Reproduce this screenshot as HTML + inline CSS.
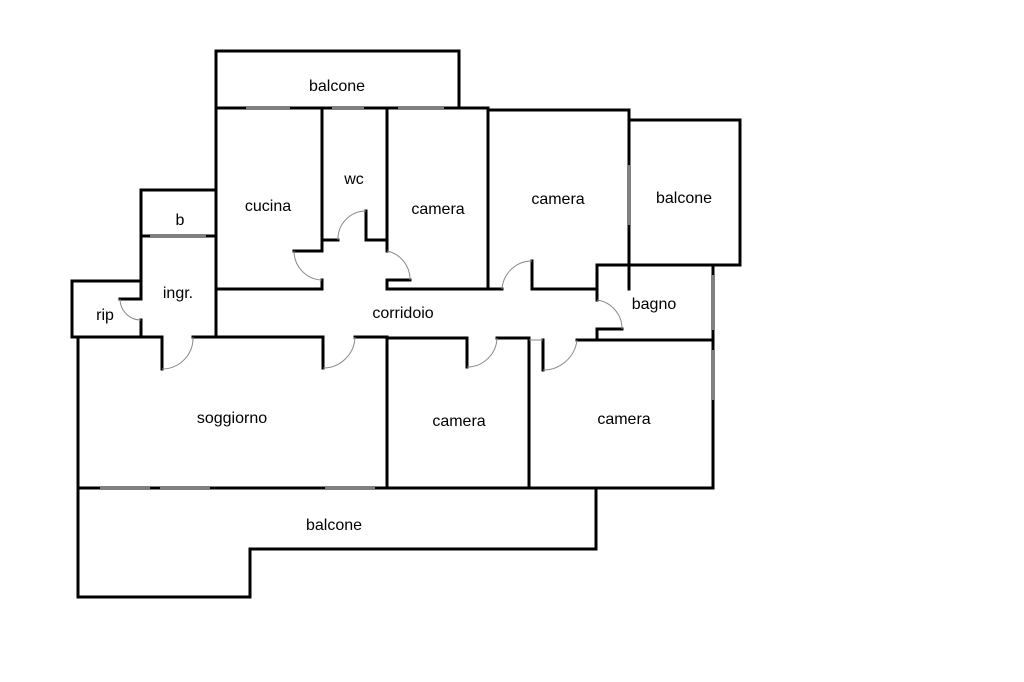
<!DOCTYPE html>
<html><head><meta charset="utf-8"><style>
html,body{margin:0;padding:0;background:#fff;width:1024px;height:682px;overflow:hidden}
svg text{font-family:"Liberation Sans",Arial,sans-serif;font-size:16px;fill:#000;text-anchor:middle}
</style></head><body>
<svg width="1024" height="682" viewBox="0 0 1024 682" xmlns="http://www.w3.org/2000/svg">
<g stroke="#000" stroke-width="3" fill="none" stroke-linecap="square">
<!-- top balcone -->
<rect x="216" y="51" width="243" height="57"/>
<line x1="216" y1="108" x2="488" y2="108"/>
<polyline points="488,289 488,110 629,110 629,289"/>
<rect x="629" y="120" width="111" height="145"/>
<!-- cucina -->
<line x1="216" y1="108" x2="216" y2="337"/>
<line x1="216" y1="289" x2="322" y2="289"/>
<polyline points="322,108 322,251 294,251"/>
<line x1="322" y1="280" x2="322" y2="289"/>
<!-- wc -->
<line x1="322" y1="240" x2="338" y2="240"/>
<polyline points="366,211 366,240 387,240"/>
<line x1="387" y1="108" x2="387" y2="251"/>
<polyline points="410,280 387,280 387,289 488,289"/>
<!-- camera2 door -->
<line x1="488" y1="289" x2="502" y2="289"/>
<polyline points="532,261 532,289 597,289"/>
<!-- bagno -->
<polyline points="597,300 597,265 713,265 713,340"/>
<polyline points="622,329 597,329 597,340"/>
<!-- b / ingr / rip -->
<polyline points="141,298 141,190 216,190"/>
<line x1="141" y1="236" x2="216" y2="236"/>
<polyline points="120,299 141,299"/>
<line x1="141" y1="320" x2="141" y2="337"/>
<polyline points="141,281 72,281 72,337 141,337"/>
<!-- soggiorno top -->
<line x1="78" y1="337" x2="162" y2="337"/>
<line x1="162" y1="337" x2="162" y2="369"/>
<line x1="193" y1="337" x2="323" y2="337"/>
<line x1="323" y1="337" x2="323" y2="368"/>
<line x1="355" y1="337" x2="387" y2="337"/>
<line x1="78" y1="337" x2="78" y2="597"/>
<line x1="387" y1="337" x2="387" y2="488"/>
<!-- camera mid top -->
<line x1="387" y1="338" x2="467" y2="338"/>
<line x1="467" y1="338" x2="467" y2="367"/>
<line x1="497" y1="338" x2="529" y2="338"/>
<line x1="529" y1="338" x2="529" y2="488"/>
<!-- camera right -->
<line x1="543" y1="340" x2="543" y2="370"/>
<line x1="577" y1="340" x2="713" y2="340"/>
<line x1="713" y1="340" x2="713" y2="488"/>
<!-- bottom -->
<line x1="78" y1="488" x2="713" y2="488"/>
<polyline points="78,597 250,597 250,549 596,549 596,488"/>
</g>
<g stroke="#888" stroke-width="1" fill="none">
<path d="M294,251 A29,29 0 0 0 322,280"/>
<path d="M338,240 A28,28 0 0 1 366,211"/>
<path d="M387,251 A29,29 0 0 1 410,280"/>
<path d="M502,289 A30,30 0 0 1 532,261"/>
<path d="M597,300 A29,29 0 0 1 622,329"/>
<path d="M120,299 A21,21 0 0 0 141,320"/>
<path d="M162,369 A31,31 0 0 0 193,337"/>
<path d="M323,368 A32,32 0 0 0 355,337"/>
<path d="M467,367 A30,30 0 0 0 497,338"/>
<path d="M543,370 A34,34 0 0 0 577,340"/>
<line x1="529" y1="340" x2="543" y2="340"/>
</g>
<g stroke="#fff" stroke-width="1">
<line x1="246" y1="108" x2="290" y2="108"/>
<line x1="332" y1="108" x2="364" y2="108"/>
<line x1="398" y1="108" x2="444" y2="108"/>
<line x1="150" y1="236" x2="206" y2="236"/>
<line x1="100" y1="488" x2="150" y2="488"/>
<line x1="160" y1="488" x2="210" y2="488"/>
<line x1="325" y1="488" x2="375" y2="488"/>
<line x1="713" y1="275" x2="713" y2="330"/>
<line x1="713" y1="350" x2="713" y2="400"/>
<line x1="629" y1="165" x2="629" y2="225"/>
</g>
<text x="337" y="91">balcone</text>
<text x="268" y="211">cucina</text>
<text x="354" y="184">wc</text>
<text x="438" y="214">camera</text>
<text x="558" y="204">camera</text>
<text x="684" y="203">balcone</text>
<text x="180" y="225">b</text>
<text x="178" y="298">ingr.</text>
<text x="105" y="320">rip</text>
<text x="403" y="318">corridoio</text>
<text x="654" y="309">bagno</text>
<text x="232" y="423">soggiorno</text>
<text x="459" y="426">camera</text>
<text x="624" y="424">camera</text>
<text x="334" y="530">balcone</text>
</svg>
</body></html>
